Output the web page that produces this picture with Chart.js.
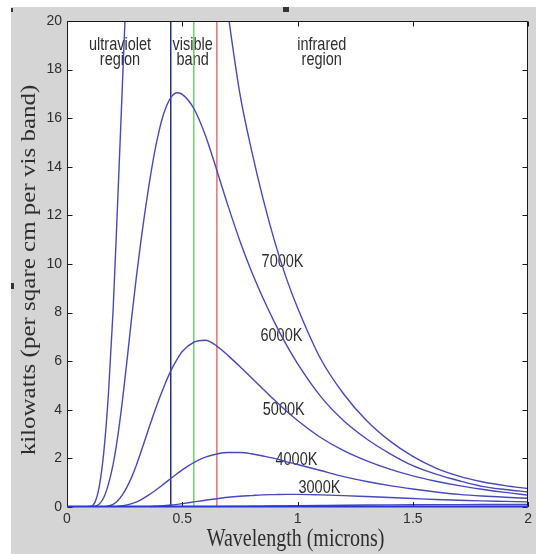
<!DOCTYPE html>
<html>
<head>
<meta charset="utf-8">
<script src="https://cdn.jsdelivr.net/npm/chart.js@4.4.1/dist/chart.umd.min.js"></script>
<style>
  html, body { margin: 0; padding: 0; background: #fff; }
  canvas { display: block; }
</style>
</head>
<body>
<canvas id="grafico" width="536" height="554"></canvas>
<script>
// Longitudes de onda (micras) donde se tomaron los valores de cada curva
const longitudOnda = [0, 0.1, 0.12, 0.14, 0.16, 0.18, 0.2, 0.22, 0.24, 0.26,
    0.28, 0.3, 0.32, 0.35, 0.38, 0.4, 0.42, 0.45, 0.48, 0.5,
    0.55, 0.6, 0.65, 0.7, 0.75, 0.8, 0.85, 0.9, 0.95, 1.0,
    1.1, 1.2, 1.3, 1.4, 1.5, 1.6, 1.7, 1.8, 1.9, 2.0];

// kilowatts por cada temperatura
const curva7000K = [0, 0.02, 0.17, 0.85, 2.3, 4.7, 8.1, 12.6, 17.3, 22.0,
    26.0, 29.3, 31.9, 34.8, 36.5, 37.0, 37.1, 36.5, 35.3, 34.2,
    31.1, 27.6, 23.8, 20.2, 17.0, 14.7, 12.7, 10.95, 9.45, 8.2,
    6.1, 4.65, 3.55, 2.72, 2.08, 1.6, 1.27, 1.04, 0.88, 0.76];
const curva6000K = [0, 0, 0.02, 0.12, 0.4, 0.95, 1.75, 2.9, 4.35, 6.0,
    7.75, 9.4, 10.9, 12.9, 14.6, 15.5, 16.2, 16.85, 17.05, 16.98,
    16.4, 15.3, 13.85, 12.35, 10.95, 9.7, 8.6, 7.6, 6.7, 5.9,
    4.55, 3.55, 2.8, 2.2, 1.7, 1.35, 1.08, 0.85, 0.72, 0.62];
const curva5000K = [0, 0, 0, 0, 0.01, 0.04, 0.11, 0.26, 0.5, 0.82,
    1.22, 1.7, 2.24, 3.1, 3.93, 4.45, 4.94, 5.6, 6.12, 6.4,
    6.78, 6.86, 6.62, 6.22, 5.78, 5.32, 4.86, 4.4, 3.96, 3.56,
    2.86, 2.32, 1.9, 1.56, 1.28, 1.06, 0.88, 0.73, 0.6, 0.49];
const curva4000K = [0, 0, 0, 0, 0, 0, 0.01, 0.02, 0.05, 0.09,
    0.14, 0.2, 0.29, 0.47, 0.66, 0.8, 0.95, 1.17, 1.39, 1.53,
    1.83, 2.05, 2.18, 2.24, 2.24, 2.19, 2.1, 2.0, 1.87, 1.75,
    1.5, 1.25, 1.05, 0.88, 0.74, 0.62, 0.52, 0.45, 0.4, 0.36];
const curva3000K = [0, 0, 0, 0, 0, 0, 0, 0, 0, 0,
    0, 0, 0.005, 0.01, 0.03, 0.04, 0.05, 0.08, 0.11, 0.14,
    0.21, 0.28, 0.34, 0.4, 0.44, 0.47, 0.5, 0.51, 0.52, 0.52,
    0.5, 0.47, 0.43, 0.39, 0.35, 0.31, 0.28, 0.25, 0.23, 0.21];
const curva2000K = [0, 0, 0, 0, 0, 0, 0, 0, 0, 0,
    0, 0, 0, 0, 0, 0, 0, 0, 0, 0,
    0.003, 0.006, 0.012, 0.018, 0.024, 0.03, 0.036, 0.042, 0.048, 0.054,
    0.065, 0.075, 0.083, 0.089, 0.094, 0.097, 0.099, 0.1, 0.1, 0.1];

const temperaturas = ['7000K', '6000K', '5000K', '4000K', '3000K', '2000K'];
const curvas = [curva7000K, curva6000K, curva5000K, curva4000K, curva3000K, curva2000K];

// Bordes de la banda visible: azul, verde y rojo
const bordesVisible = [0.45, 0.55, 0.65];
const coloresVisible = ['#27308c', '#6ad66a', '#e57373'];

// Etiquetas de las curvas (en unidades de los ejes)
const etiquetasCurva = ['7000K', '6000K', '5000K', '4000K', '3000K'];
const etiquetaX = [0.935, 0.93, 0.94, 0.995, 1.095];
const etiquetaY = [10.1, 7.05, 4.0, 1.95, 0.77];

const regiones = [['ultraviolet', 'region'], ['visible', 'band'], ['infrared', 'region']];
const regionX = [0.23, 0.545, 1.105];
const regionY = 19.0;

const ticksX = [0, 0.5, 1, 1.5, 2];
const ticksY = [0, 2, 4, 6, 8, 10, 12, 14, 16, 18, 20];

const COLOR_CURVA = '#4848bf';
const COLOR_TEXTO = '#2e2e2e';
const ESTIRAMIENTO = 1.25; // el texto se ve mas alto que ancho

function textoEstirado(ctx, texto, x, y, fuente, giro) {
    ctx.save();
    ctx.translate(x, y);
    ctx.scale(1, ESTIRAMIENTO);
    if (giro) ctx.rotate(giro);
    ctx.font = fuente;
    ctx.fillStyle = COLOR_TEXTO;
    ctx.textAlign = 'center';
    ctx.textBaseline = 'middle';
    ctx.fillText(texto, 0, 0);
    ctx.restore();
}

// fondo gris de la figura y area blanca del grafico
const fondo = {
    id: 'fondo',
    beforeDraw(chart) {
        const ctx = chart.ctx;
        const a = chart.chartArea;
        ctx.save();
        ctx.fillStyle = '#ffffff';
        ctx.fillRect(0, 0, chart.width, chart.height);
        ctx.fillStyle = '#d5d5d5';
        ctx.fillRect(11, 7, chart.width - 11, chart.height - 7);
        ctx.fillStyle = '#ffffff';
        ctx.fillRect(a.left, a.top, a.right - a.left, a.bottom - a.top);
        ctx.fillStyle = '#333333';
        ctx.fillRect(283, 7, 6, 5);
        ctx.fillRect(11, 8, 2, 4);
        ctx.fillRect(11, 283, 3, 6);
        ctx.restore();
    }
};

// textos: regiones, etiquetas de temperatura y titulos de los ejes
const textos = {
    id: 'textos',
    beforeDatasetsDraw(chart) {
        const ctx = chart.ctx;
        const sx = chart.scales.x;
        const sy = chart.scales.y;
        const a = chart.chartArea;
        const fuente = '14.5px "Liberation Sans", Arial, sans-serif';

        regiones.forEach((lineas, i) => {
            const px = sx.getPixelForValue(regionX[i]);
            const py = sy.getPixelForValue(regionY);
            lineas.forEach((t, j) => textoEstirado(ctx, t, px, py + j * 15, fuente));
        });

        etiquetasCurva.forEach((t, i) => {
            textoEstirado(ctx, t, sx.getPixelForValue(etiquetaX[i]), sy.getPixelForValue(etiquetaY[i]), fuente);
        });

        const serif = '20px "Liberation Serif", "Times New Roman", serif';
        textoEstirado(ctx, 'Wavelength (microns)', (a.left + a.right) / 2 - 2, 539, serif);
        textoEstirado(ctx, 'kilowatts (per sqare cm per vis band)', 30, (a.top + a.bottom) / 2 + 6, serif, -Math.PI / 2);
    }
};

// marco de los ejes con marcas hacia dentro
const marco = {
    id: 'marco',
    afterDatasetsDraw(chart) {
        const ctx = chart.ctx;
        const a = chart.chartArea;
        const sx = chart.scales.x;
        const sy = chart.scales.y;
        const l = Math.round(a.left) + 0.5, r = Math.round(a.right) - 0.5;
        const t = Math.round(a.top) + 0.5, b = Math.round(a.bottom);
        ctx.save();
        ctx.strokeStyle = '#1a1a1a';
        ctx.lineWidth = 1;
        ctx.beginPath();
        ctx.moveTo(l, b); ctx.lineTo(l, t); ctx.lineTo(r, t); ctx.lineTo(r, b);
        ticksY.forEach(v => {
            const y = Math.round(sy.getPixelForValue(v)) + 0.5;
            ctx.moveTo(l, y); ctx.lineTo(l + 5, y);
            ctx.moveTo(r, y); ctx.lineTo(r - 5, y);
        });
        ticksX.forEach(v => {
            const x = Math.round(sx.getPixelForValue(v)) + 0.5;
            ctx.moveTo(x, b); ctx.lineTo(x, b - 5);
            ctx.moveTo(x, t); ctx.lineTo(x, t + 5);
        });
        ctx.stroke();
        // eje inferior en azul (curvas de baja temperatura pegadas a cero)
        ctx.strokeStyle = '#2436d6';
        ctx.lineWidth = 2;
        ctx.beginPath();
        ctx.moveTo(a.left, b - 0.5);
        ctx.lineTo(a.right, b - 0.5);
        ctx.stroke();
        ctx.restore();
    }
};

function crearGrafico(id) {
    const canvas = document.getElementById(id);
    const ctx = canvas.getContext('2d');

    const datasets = curvas.map((valores, i) => ({
        label: temperaturas[i],
        data: longitudOnda.map((x, j) => ({ x: x, y: valores[j] })),
        borderColor: COLOR_CURVA,
        borderWidth: 1.4,
        pointRadius: 0,
        fill: false,
        cubicInterpolationMode: 'monotone'
    }));

    bordesVisible.forEach((x, i) => {
        datasets.push({
            label: 'banda ' + x,
            data: [{ x: x, y: ticksY[0] }, { x: x, y: ticksY[ticksY.length - 1] }],
            borderColor: coloresVisible[i],
            borderWidth: 1.5,
            pointRadius: 0,
            fill: false
        });
    });

    const fuenteTicks = { family: '"Liberation Sans", Arial, sans-serif', size: 14 };

    new Chart(ctx, {
        type: 'line',
        data: { datasets: datasets },
        plugins: [fondo, textos, marco],
        options: {
            responsive: false,
            animation: false,
            devicePixelRatio: 1,
            layout: { padding: { top: 21, right: 5, left: 0, bottom: 0 } },
            plugins: {
                legend: { display: false },
                tooltip: { enabled: false }
            },
            scales: {
                x: {
                    type: 'linear',
                    min: 0,
                    max: 2,
                    afterBuildTicks: s => { s.ticks = ticksX.map(v => ({ value: v })); },
                    afterFit: s => { s.height = 47; },
                    grid: { display: false, drawTicks: false },
                    border: { display: false },
                    ticks: {
                        padding: 4,
                        maxRotation: 0,
                        color: COLOR_TEXTO,
                        font: fuenteTicks,
                        callback: v => String(v)
                    }
                },
                y: {
                    min: 0,
                    max: 20,
                    afterBuildTicks: s => { s.ticks = ticksY.map(v => ({ value: v })); },
                    afterFit: s => { s.width = 67; },
                    grid: { display: false, drawTicks: false },
                    border: { display: false },
                    ticks: {
                        padding: 5,
                        color: COLOR_TEXTO,
                        font: fuenteTicks,
                        callback: v => String(v)
                    }
                }
            }
        }
    });
}

crearGrafico('grafico');
</script>
</body>
</html>
